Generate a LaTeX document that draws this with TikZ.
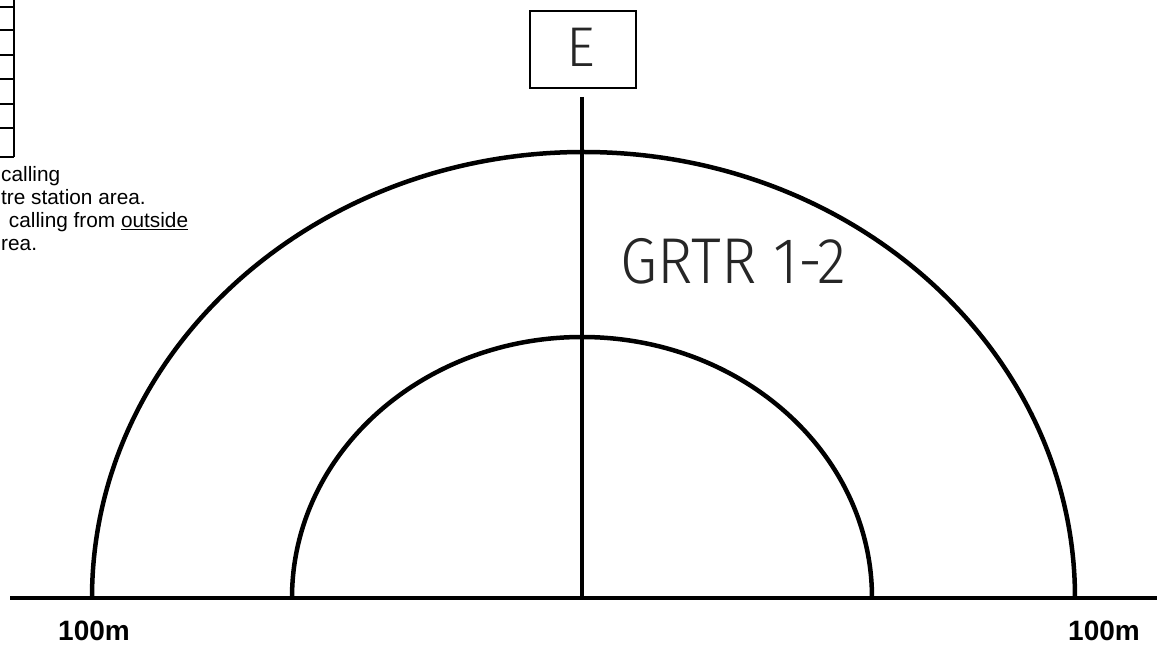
\documentclass[tikz,border=0pt]{standalone}
\usepackage{fontspec}
\setmainfont{Liberation Sans}
\newfontfamily\hand{Fira Sans Light}
\usepackage{graphicx}
\begin{document}
\begin{tikzpicture}[x=1pt,y=1pt,
  thick line/.style={line width=4.5pt,black},
  thin line/.style={line width=2pt,black},
  note/.style={anchor=base west,inner sep=0pt,font=\fontsize{20.8}{23}\selectfont},
  scale label/.style={anchor=base west,inner sep=0pt,font=\bfseries\fontsize{28}{30}\selectfont},
  handtext/.style={inner sep=0pt,text=black!85,font=\hand}]
\useasboundingbox (0,0) rectangle (1157,646);
% partial table at top left
\draw[thin line] (14,646) -- (14,489);
\foreach \yy in {7,30,55,79,104,128,157}
  \draw[thin line] (0,646-\yy) -- (14,646-\yy);
% notes
\node[note] (n1) at (1,646-182) {calling};
\node[note] (n2) at (1,646-205) {tre station area.};
\node[note] (n3) at (3,646-228) {\ calling from \underline{outside}};
\node[note] (n4) at (1,646-251) {rea.};
% box E
\node[draw,line width=2.4pt,minimum width=106pt,minimum height=77pt,inner sep=0pt] (box) at (583,596.5) {};
\node[handtext,font=\hand\fontsize{56}{56}\selectfont] (E) at (581,599) {E};
% base line and arcs
\coordinate (bl) at (10,48);
\coordinate (br) at (1157,48);
\coordinate (c) at (582,48);
\coordinate (top) at (582,549);
\draw[thick line] (bl) -- (br);
\draw[thick line] (top) -- (c);
\coordinate (o1) at (92,48);
\coordinate (i1) at (292,48);
\draw[thick line] (o1) arc[start angle=180,end angle=0,x radius=491.5,y radius=446];
\draw[thick line] (i1) arc[start angle=180,end angle=0,x radius=290,y radius=261];
% labels
\node[handtext,anchor=south west] (g) at (620,362) {\scalebox{1.25}[1.35]{\fontsize{48}{48}\selectfont GRTR 1-2}};
\node[scale label] (l1) at (58,6) {100m};
\node[scale label] (l2) at (1068,6) {100m};
\end{tikzpicture}
\end{document}
